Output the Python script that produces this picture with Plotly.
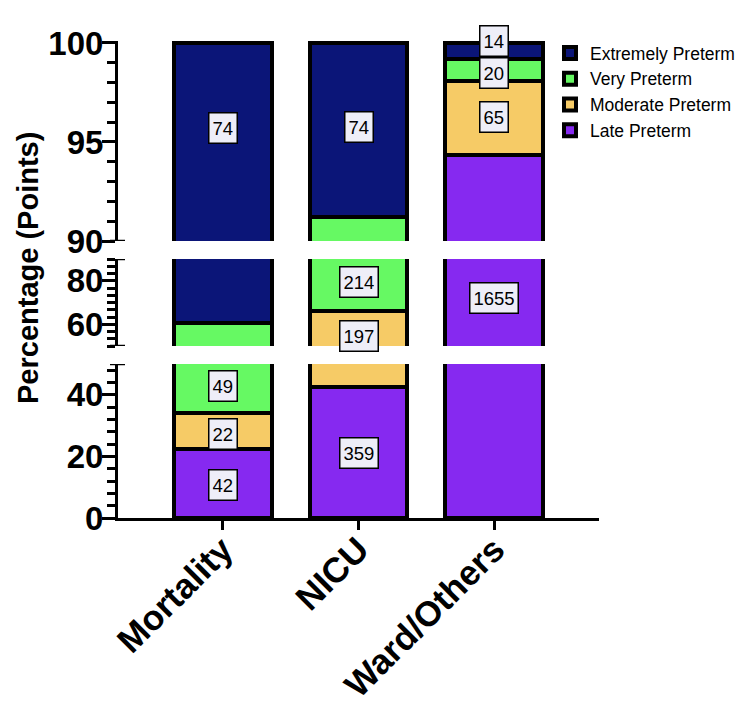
import plotly.graph_objects as go

# ---------------- data ----------------
categories = ["Mortality", "NICU", "Ward/Others"]
series_names = ["Late Preterm", "Moderate Preterm", "Very Preterm", "Extremely Preterm"]
late_preterm = [42, 359, 1655]
moderate_preterm = [22, 197, 65]
very_preterm = [49, 214, 20]
extremely_preterm = [74, 74, 14]

y_ticks_bottom = [0, 20, 40]
y_ticks_middle = [60, 80]
y_ticks_top = [90, 95, 100]

# ---------------- derived percentages ----------------
counts = [late_preterm, moderate_preterm, very_preterm, extremely_preterm]
totals = [sum(c[i] for c in counts) for i in range(len(categories))]
percents = [[c[i] / totals[i] * 100 for i in range(len(categories))] for c in counts]

# ---------------- style ----------------
colors = ["#8629F0", "#F6CB66", "#66F963", "#0B1578"]
FONT = "Arial, 'Liberation Sans', sans-serif"
W, H = 750, 711
ML, MR, MT, MB = 118, 151, 41, 193
plot_h = H - MT - MB
plot_w = W - ML - MR


def frac(py):
    return (H - MB - py) / plot_h


def xfrac(px):
    return (px - ML) / plot_w


# segments: (axis name, range, pixel bottom, pixel top)
segments = [
    ("y", [0, 50], 518, 364),
    ("y2", [50, 90], 346, 259),
    ("y3", [90, 100.1], 241, MT),
]

# label placement (axis, y-value) per (series index, category index)
label_pos = {
    (3, 0): ("y3", 95.7), (3, 1): ("y3", 95.75), (3, 2): ("y3", 100.1),
    (2, 0): ("y", 42.95), (2, 1): ("y2", 79.6), (2, 2): ("y3", 98.47),
    (1, 0): ("y", 27.3), (1, 1): ("y2", 54.7), (1, 2): ("y3", 96.26),
    (0, 0): ("y", 10.7), (0, 1): ("y", 21.1), (0, 2): ("y2", 72.1),
}

fig = go.Figure()
for ax, rng, pb, pt in segments:
    for s, name in enumerate(series_names):
        fig.add_trace(go.Bar(
            x=categories, y=percents[s], name=name,
            xaxis="x", yaxis=ax,
            marker=dict(color=colors[s], line=dict(color="black", width=4)),
            legendgroup=name, showlegend=(ax == "y3"),
            customdata=counts[s],
            hovertemplate="%{x}<br>" + name + ": %{customdata} (%{y:.1f}%)<extra></extra>",
        ))

annotations = []
for (s, ci), (ax, yv) in label_pos.items():
    annotations.append(dict(
        x=categories[ci], y=yv, xref="x", yref=ax, text=str(counts[s][ci]),
        showarrow=False, bgcolor="#EEEEF8", bordercolor="black", borderwidth=1.5,
        borderpad=3, height=23, valign="middle",
        font=dict(family=FONT, size=18.5, color="black"),
    ))

annotations.append(dict(
    x=xfrac(28), y=frac(268), xref="paper", yref="paper",
    text="Percentage (Points)", textangle=-90, showarrow=False,
    font=dict(family=FONT, size=29, color="black", weight="bold"),
    xanchor="center", yanchor="middle",
))

shapes = []
for ax, yv in [("y3", 90), ("y2", 90), ("y2", 50), ("y", 50)]:
    shapes.append(dict(
        type="line", xref="paper", yref=ax,
        x0=xfrac(110), x1=xfrac(125),
        y0=yv, y1=yv, line=dict(color="black", width=2.5), layer="above",
    ))

common_y = dict(
    showline=True, linecolor="black", linewidth=3, showgrid=False, zeroline=False,
    ticks="outside", ticklen=13, tickwidth=2.5, tickcolor="black",
    tickfont=dict(family=FONT, size=33, color="black", weight="bold"),
    ticklabelstandoff=-8, automargin=False,
    anchor="x", fixedrange=True,
)

fig.update_layout(
    width=W, height=H,
    margin=dict(l=ML, r=MR, t=MT, b=MB, autoexpand=False),
    paper_bgcolor="white", plot_bgcolor="white",
    barmode="stack", bargap=0.28,
    showlegend=True,
    legend=dict(
        x=xfrac(550), xanchor="left",
        y=frac(35), yanchor="top", traceorder="reversed",
        font=dict(family=FONT, size=17.5, color="black"),
        bgcolor="rgba(0,0,0,0)",
    ),
    xaxis=dict(
        range=[-0.77, 2.77], domain=[0, 1], anchor="y",
        showline=True, linecolor="black", linewidth=3, showgrid=False, zeroline=False,
        ticks="outside", ticklen=9, tickwidth=2.5, tickcolor="black", tickangle=-45,
        tickfont=dict(family=FONT, size=35, color="black", weight="bold"),
        ticklabelstandoff=-15, automargin=False,
        fixedrange=True,
    ),
    yaxis=dict(
        range=segments[0][1], domain=[0, frac(segments[0][3])],
        tickmode="array", tickvals=y_ticks_bottom, ticktext=[str(v) for v in y_ticks_bottom],
        minor=dict(ticks="outside", dtick=4, tick0=0, ticklen=8, tickwidth=2.5, tickcolor="black"),
        **common_y,
    ),
    yaxis2=dict(
        range=segments[1][1], domain=[frac(segments[1][2]), frac(segments[1][3])],
        tickmode="array", tickvals=y_ticks_middle, ticktext=[str(v) for v in y_ticks_middle],
        minor=dict(ticks="outside", dtick=10 / 3, tick0=50, ticklen=8, tickwidth=2.5, tickcolor="black"),
        **common_y,
    ),
    yaxis3=dict(
        range=segments[2][1], domain=[frac(segments[2][2]), 1],
        tickmode="array", tickvals=y_ticks_top, ticktext=[str(v) for v in y_ticks_top],
        minor=dict(ticks="outside", dtick=1, tick0=90, ticklen=8, tickwidth=2.5, tickcolor="black"),
        **common_y,
    ),
    annotations=annotations,
    shapes=shapes,
)

fig.write_html("out.html")
